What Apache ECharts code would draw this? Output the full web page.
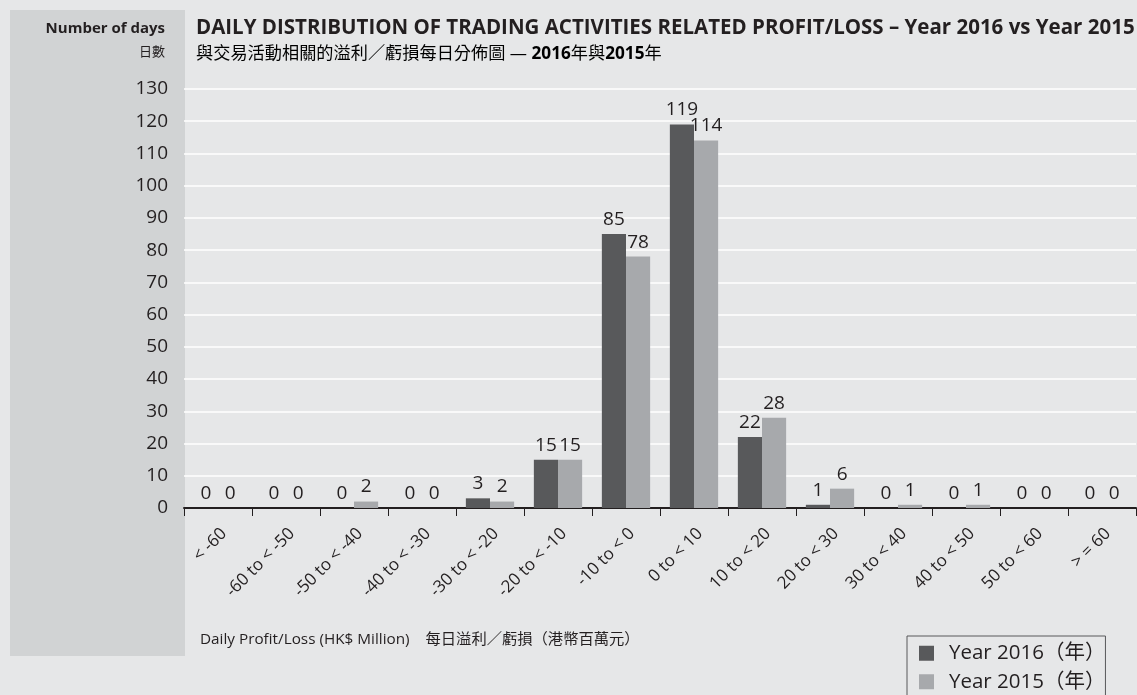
<!DOCTYPE html>
<html>
<head>
<meta charset="utf-8">
<script src="https://cdn.jsdelivr.net/npm/echarts@6/dist/echarts.min.js"></script>
<style>
  html, body { margin: 0; padding: 0; background: #e6e7e8; }
  #chart { width: 1137px; height: 695px; }
</style>
</head>
<body>
<div id="chart"></div>
<script>
// 分組（每日溢利／虧損區間）
var categories = ['< -60', '-60 to < -50', '-50 to < -40', '-40 to < -30', '-30 to < -20', '-20 to < -10',
  '-10 to < 0', '0 to < 10', '10 to < 20', '20 to < 30', '30 to < 40', '40 to < 50', '50 to < 60', '> = 60'];
var days2016 = [0, 0, 0, 0, 3, 15, 85, 119, 22, 1, 0, 0, 0, 0];
var days2015 = [0, 0, 2, 0, 2, 15, 78, 114, 28, 6, 1, 1, 0, 0];
var seriesNames = ['Year 2016（年）', 'Year 2015（年）'];

var font = '"Open Sans", "Noto Sans CJK TC", sans-serif';
var textColor = '#231f20';

var chart = echarts.init(document.getElementById('chart'));

var barLabel = {
  show: true,
  position: 'top',
  distance: 5,
  fontSize: 19,
  fontFamily: font,
  color: textColor
};

var option = {
  backgroundColor: '#e6e7e8',
  animation: false,
  textStyle: { fontFamily: font },
  graphic: [
    // 左邊的深灰底
    { type: 'rect', z: -10, shape: { x: 10, y: 10, width: 175, height: 646 }, style: { fill: '#d1d3d4' } },
    { type: 'text', right: 972, top: 21,
      style: { text: 'Number of days', font: 'bold 15px ' + font, fill: textColor, textAlign: 'right' } },
    { type: 'text', right: 972, top: 46,
      style: { text: '日數', font: '13px ' + font, fill: textColor, textAlign: 'right' } },
    { type: 'text', left: 196, top: 18,
      style: { text: 'DAILY DISTRIBUTION OF TRADING ACTIVITIES RELATED PROFIT/LOSS – Year 2016 vs Year 2015',
        font: 'bold 20.5px ' + font, fill: textColor } },
    { type: 'text', left: 196, top: 46,
      style: {
        text: '{n|與交易活動相關的溢利／虧損每日分佈圖 — }{b|2016}{n|年與}{b|2015}{n|年}',
        rich: {
          n: { fontSize: 17.2, fontFamily: font, color: textColor },
          b: { fontSize: 17.2, fontWeight: 'bold', fontFamily: font, color: textColor }
        }
      } },
    { type: 'text', left: 200, top: 632,
      style: { text: 'Daily Profit/Loss (HK$ Million)    每日溢利／虧損（港幣百萬元）',
        font: '15.3px ' + font, fill: textColor } }
  ],
  legend: {
    orient: 'vertical',
    left: 907,
    top: 636,
    height: 120,
    backgroundColor: '#e6e7e8',
    borderColor: '#58595b',
    borderWidth: 1,
    padding: [7, 0, 8, 12],
    itemWidth: 15,
    itemHeight: 15,
    itemGap: 8,
    icon: 'rect',
    textStyle: { fontSize: 20.5, fontFamily: font, color: textColor, padding: [0, 0, 0, 10] },
    data: seriesNames
  },
  grid: { left: 184, right: 1, top: 89, bottom: 187, containLabel: false },
  xAxis: {
    type: 'category',
    data: categories,
    axisLine: { lineStyle: { color: textColor, width: 2 } },
    axisTick: { show: true, length: 8, lineStyle: { color: textColor, width: 1 } },
    axisLabel: { rotate: 45, fontSize: 17, color: textColor, margin: 17, interval: 0, verticalAlign: 'top' }
  },
  yAxis: {
    type: 'value',
    min: 0,
    max: 130,
    interval: 10,
    axisLine: { show: false },
    axisTick: { show: false },
    splitLine: { lineStyle: { color: '#ffffff', width: 1.5 } },
    axisLabel: { fontSize: 19, color: textColor, margin: 16 }
  },
  series: [
    {
      name: seriesNames[0],
      type: 'bar',
      data: days2016,
      barGap: '0%',
      barCategoryGap: '29%',
      itemStyle: { color: '#58595b' },
      label: barLabel
    },
    {
      name: seriesNames[1],
      type: 'bar',
      data: days2015,
      itemStyle: { color: '#a7a9ac' },
      label: barLabel
    }
  ]
};

chart.setOption(option);
</script>
</body>
</html>
